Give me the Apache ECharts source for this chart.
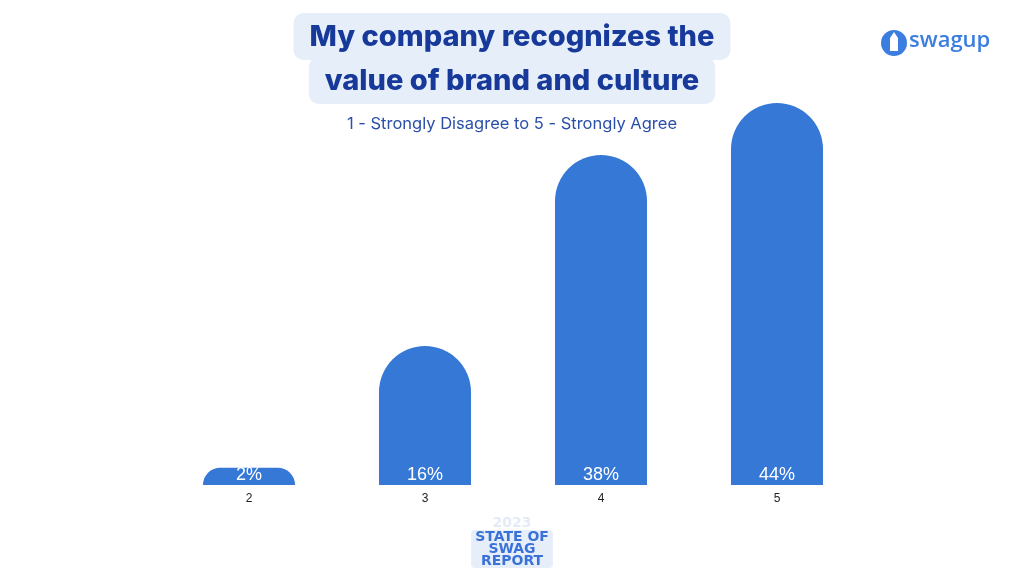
<!DOCTYPE html>
<html>
<head>
<meta charset="utf-8">
<script src="https://cdn.jsdelivr.net/npm/echarts@6/dist/echarts.min.js"></script>
<style>
  html, body { margin: 0; padding: 0; background: #fff; }
  #chart { width: 1024px; height: 576px; }
</style>
</head>
<body>
<div id="chart"></div>
<script>
// survey answers (1 - Strongly Disagree to 5 - Strongly Agree)
const categories = ['2', '3', '4', '5']
const shares = [2, 16, 38, 44]
const titleLines = ['My company recognizes the', 'value of brand and culture']
const subtitle = '1 - Strongly Disagree to 5 - Strongly Agree'

const barColor = '#3578d6'
const navy = '#16399a'
const paleBlue = '#e6eef9'

const chart = echarts.init(document.getElementById('chart'))

const titleBox = (text, top) => ({
  text,
  left: 'center',
  top,
  padding: [7, 16, 6, 16],
  backgroundColor: paleBlue,
  borderRadius: 10,
  textStyle: {
    color: navy,
    fontFamily: 'Inter',
    fontWeight: 800,
    fontSize: 29,
    lineHeight: 34
  }
})

const option = {
  backgroundColor: '#fff',
  animation: false,
  title: [
    titleBox(titleLines[0], 13),
    titleBox(titleLines[1], 57),
    {
      text: subtitle,
      left: 'center',
      top: 111,
      textStyle: {
        color: '#2a4fa8',
        fontFamily: 'Inter',
        fontWeight: 'normal',
        fontSize: 16.5
      }
    }
  ],
  grid: {
    left: 161,
    right: 159,
    top: 103,
    bottom: 91
  },
  xAxis: {
    type: 'category',
    data: categories,
    axisLine: { show: false },
    axisTick: { show: false },
    axisLabel: {
      color: '#222',
      fontFamily: 'Liberation Sans',
      fontSize: 12,
      margin: 8
    }
  },
  yAxis: {
    type: 'value',
    min: 0,
    max: 44,
    show: false
  },
  series: [
    {
      type: 'bar',
      data: shares,
      barWidth: 92,
      itemStyle: {
        color: barColor,
        borderRadius: [46, 46, 0, 0]
      },
      label: {
        show: true,
        position: 'insideBottom',
        distance: 1,
        color: '#fff',
        fontFamily: 'Liberation Sans',
        fontSize: 18,
        formatter: '{c}%'
      }
    }
  ],
  graphic: [
    // swagup logo, top right
    {
      type: 'circle',
      shape: { cx: 894, cy: 43, r: 13 },
      style: { fill: '#3b7ee0' }
    },
    {
      type: 'polygon',
      shape: {
        points: [[894, 32], [898, 38], [898, 51], [890, 51], [890, 38]]
      },
      style: { fill: '#fff' }
    },
    {
      type: 'text',
      x: 909,
      y: 30,
      style: {
        text: 'swagup',
        fill: '#3b7ee0',
        font: '600 22px "Open Sans"'
      }
    },
    // State of Swag report badge, bottom centre
    {
      type: 'text',
      x: 512,
      y: 516,
      style: {
        text: '2023',
        fill: '#e4ebf7',
        font: 'bold 14px "DejaVu Sans"',
        align: 'center'
      }
    },
    {
      type: 'text',
      x: 512,
      y: 530,
      style: {
        text: 'STATE OF\nSWAG\nREPORT',
        fill: '#3b72d8',
        font: 'bold 14px "DejaVu Sans"',
        lineHeight: 12,
        align: 'center',
        backgroundColor: '#e6eef9',
        padding: [1, 4, 1, 4],
        borderRadius: 4
      }
    }
  ]
}

chart.setOption(option)
</script>
</body>
</html>
